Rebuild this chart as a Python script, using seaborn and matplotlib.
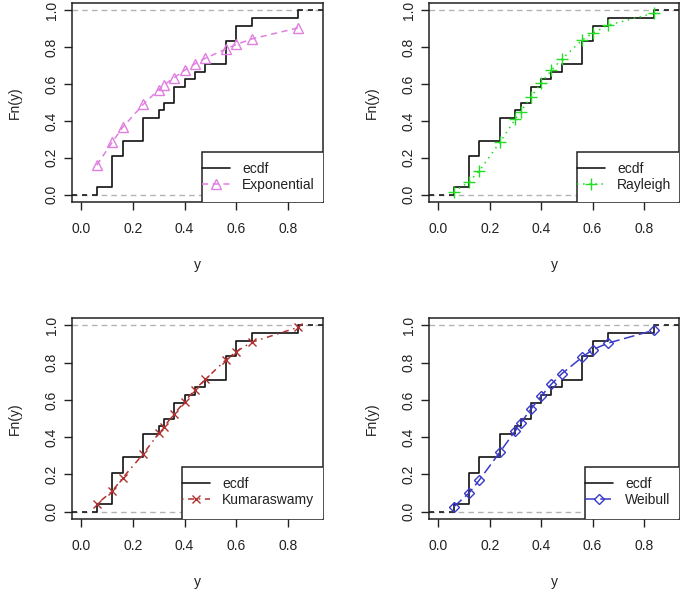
import matplotlib
matplotlib.use("Agg")
import matplotlib.pyplot as plt
import numpy as np
import pandas as pd
import seaborn as sns
from matplotlib.lines import Line2D
from matplotlib.patches import Rectangle

# observed sample (24 values, read from the ecdf steps)
y_obs = [0.06, 0.12, 0.12, 0.12, 0.12, 0.16, 0.16, 0.24, 0.24, 0.24,
         0.30, 0.32, 0.36, 0.36, 0.40, 0.44, 0.48, 0.56, 0.56, 0.56,
         0.60, 0.60, 0.66, 0.84]

# fitted cdf values at the distinct sample points
y_grid = [0.06, 0.12, 0.16, 0.24, 0.30, 0.32, 0.36, 0.40, 0.44, 0.48, 0.56, 0.60, 0.66, 0.84]
cdf_exponential = [0.16, 0.285, 0.365, 0.49, 0.57, 0.595, 0.635, 0.675, 0.71, 0.74, 0.79, 0.815, 0.845, 0.905]
cdf_rayleigh = [0.015, 0.07, 0.13, 0.285, 0.41, 0.45, 0.53, 0.605, 0.675, 0.735, 0.84, 0.875, 0.92, 0.985]
cdf_kumaraswamy = [0.04, 0.11, 0.18, 0.31, 0.42, 0.455, 0.525, 0.59, 0.655, 0.71, 0.815, 0.86, 0.91, 0.99]
cdf_weibull = [0.025, 0.10, 0.17, 0.32, 0.435, 0.475, 0.55, 0.62, 0.685, 0.74, 0.83, 0.87, 0.905, 0.975]

models = ["Exponential", "Rayleigh", "Kumaraswamy", "Weibull"]
fits = [cdf_exponential, cdf_rayleigh, cdf_kumaraswamy, cdf_weibull]
colors = ["#E07FE0", "#22DD22", "#B03030", "#3A3AC8"]
styles = [(0, (4, 3)), (0, (1, 3)), (0, (1, 3, 4, 3)), (0, (7, 3))]
markers = ["^", "+", "x", "D"]
msizes = [7, 8.5, 6, 5.5]

sns.set_theme(style="white")
plt.rcParams["font.family"] = ["Liberation Sans", "DejaVu Sans"]
plt.rcParams["font.size"] = 10
txt = "#222222"

fig = plt.figure(figsize=(6.85, 5.94), dpi=100)
W, H = 685, 594
# axes boxes in pixels: left, top, right, bottom
boxes = [(72, 3, 323, 202), (429, 3, 679, 202), (72, 318, 323, 519), (429, 318, 679, 519)]
legend_left = [202, 577, 182, 585]
legend_top = [152, 152, 467, 467]

obs = pd.DataFrame({"y": y_obs})
xlim = (-0.036, 0.936)
ylim = (-0.04, 1.04)

for i, (l, t, r, b) in enumerate(boxes):
    ax = fig.add_axes([l / W, 1 - b / H, (r - l) / W, (b - t) / H])
    axw, axh = r - l, b - t

    ax.axhline(0, color="#B3B3B3", lw=1, ls=(0, (4, 3)), zorder=1)
    ax.axhline(1, color="#B3B3B3", lw=1, ls=(0, (4, 3)), zorder=1)

    sns.ecdfplot(data=obs, x="y", ax=ax, color="#1a1a1a", lw=1.25, zorder=3)
    ax.hlines(0, xlim[0], min(y_obs), color="#1a1a1a", lw=1.2,
              linestyles=(0, (3, 3)), zorder=3)
    ax.hlines(1, max(y_obs), xlim[1], color="#1a1a1a", lw=1.2,
              linestyles=(0, (3, 3)), zorder=3)

    fit_df = pd.DataFrame({"y": y_grid, "F": fits[i]})
    sns.lineplot(data=fit_df, x="y", y="F", ax=ax, color=colors[i], lw=1.1,
                 linestyle=styles[i], marker=markers[i], markersize=msizes[i],
                 markerfacecolor="none", markeredgecolor=colors[i],
                 markeredgewidth=1.0, zorder=4)

    ax.set_xlim(*xlim)
    ax.set_ylim(*ylim)
    ax.set_xticks(np.arange(0, 0.81, 0.2))
    ax.set_yticks(np.arange(0, 1.01, 0.2))
    ax.set_xticklabels([f"{v:.1f}" for v in np.arange(0, 0.81, 0.2)])
    ax.set_yticklabels([f"{v:.1f}" for v in np.arange(0, 1.01, 0.2)],
                       rotation=90, va="center")
    ax.tick_params(axis="both", direction="out", length=5.5, width=1,
                   bottom=True, left=True,
                   color="#222222", labelcolor=txt, labelsize=10)
    ax.tick_params(axis="x", pad=9)
    ax.tick_params(axis="y", pad=4)
    for s in ax.spines.values():
        s.set_color("#222222")
        s.set_linewidth(1.1)

    ax.set_xlabel("y", color=txt, fontsize=10)
    ax.set_ylabel("Fn(y)", color=txt, fontsize=10)
    ax.xaxis.set_label_coords(0.5, -63 / axh)
    ax.xaxis.label.set_va("center")
    ax.yaxis.set_label_coords(-57 / axw, 0.5)
    ax.yaxis.label.set_va("center")

    # legend box, clipped by the plot frame like R does
    lx = (legend_left[i] - l) / axw
    ly = (b - legend_top[i]) / axh
    frame = Rectangle((lx, -0.2), 1.2, ly + 0.2, transform=ax.transAxes,
                      facecolor="white", edgecolor="#222222", lw=1.1,
                      zorder=5, clip_on=True)
    ax.add_patch(frame)
    handles = [
        Line2D([], [], color="#1a1a1a", lw=1.2),
        Line2D([], [], color=colors[i], lw=1.1, linestyle=styles[i],
               marker=markers[i], markersize=msizes[i], markerfacecolor="none",
               markeredgecolor=colors[i]),
    ]
    leg = ax.legend(handles, ["ecdf", models[i]], loc="upper left",
                    bbox_to_anchor=(lx, ly - 10 / axh), frameon=False,
                    borderaxespad=0, borderpad=0, handlelength=2.0,
                    handletextpad=0.9, labelspacing=0.15, fontsize=10)
    leg.set_zorder(6)
    for tx in leg.get_texts():
        tx.set_color(txt)

fig.savefig("out.png", dpi=100)
